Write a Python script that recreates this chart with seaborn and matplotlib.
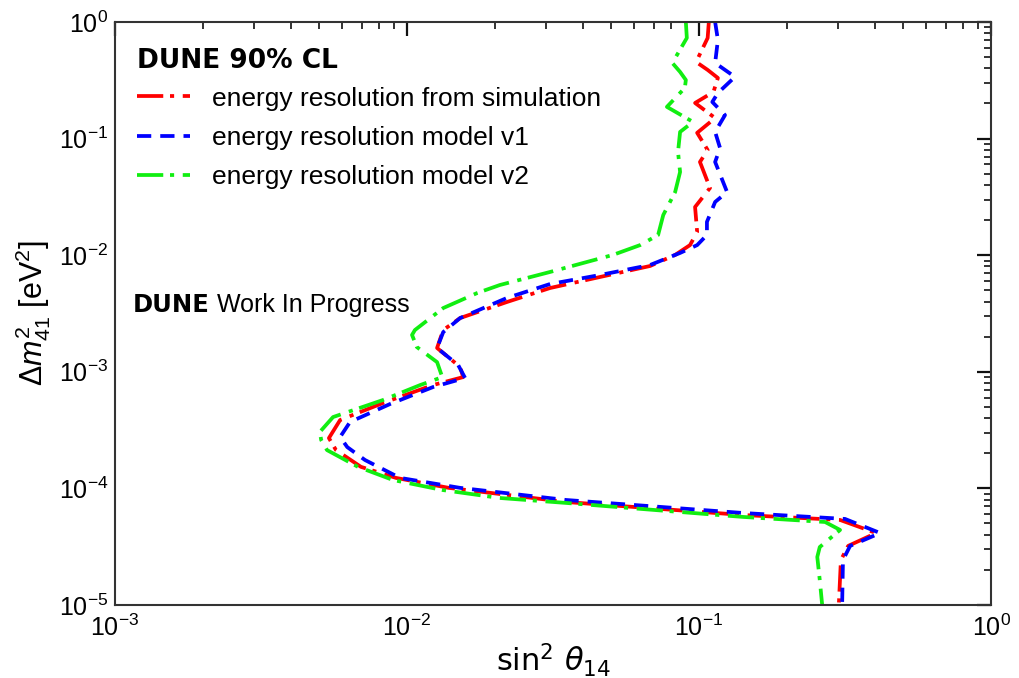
import numpy as np
import pandas as pd
import matplotlib
matplotlib.use("Agg")
import matplotlib.pyplot as plt
import seaborn as sns
from matplotlib.ticker import LogLocator, NullFormatter

# 90% CL exclusion contours: (sin^2 theta_14, Delta m^2_41 [eV^2]) traced from top to bottom
sim_sin2 = [0.108, 0.107, 0.0977, 0.107, 0.116, 0.112, 0.0969, 0.1135, 0.0985, 0.107,
            0.1007, 0.109, 0.0969, 0.0985, 0.0931, 0.0828, 0.068, 0.0458, 0.0309, 0.0220,
            0.0152, 0.0133, 0.01267, 0.0152, 0.01556, 0.01228, 0.00828, 0.0059, 0.0054, 0.00571,
            0.00695, 0.00916, 0.0139, 0.0351, 0.1416, 0.304, 0.404, 0.324, 0.306, 0.301]
sim_dm2 = [1.0, 0.729, 0.454, 0.388, 0.331, 0.251, 0.202, 0.150, 0.112, 0.0798,
           0.063, 0.0377, 0.0259, 0.0158, 0.0122, 0.01005, 0.00808, 0.0065, 0.00523, 0.00397,
           0.00289, 0.00228, 0.0016, 0.0011, 0.0009, 0.00077, 0.00054, 0.000386, 0.00027, 0.000213,
           0.000153, 0.000123, 0.000101, 7.64e-5, 5.91e-5, 5.36e-5, 4.14e-5, 3.21e-5, 2.43e-5, 1e-5]

v1_sin2 = [0.1135, 0.116, 0.1135, 0.1327, 0.116, 0.111, 0.1227, 0.1135, 0.118, 0.1135,
           0.1247, 0.1135, 0.1064, 0.1064, 0.0985, 0.0861, 0.068, 0.0458, 0.0309, 0.0220,
           0.0152, 0.0133, 0.01267, 0.01497, 0.0158, 0.01228, 0.00876, 0.00638, 0.0059, 0.00624,
           0.00718, 0.00946, 0.0152, 0.0351, 0.1416, 0.316, 0.417, 0.329, 0.311, 0.309]
v1_dm2 = [1.0, 0.701, 0.445, 0.338, 0.246, 0.206, 0.159, 0.114, 0.083, 0.063,
          0.0348, 0.0286, 0.0193, 0.0149, 0.0122, 0.01045, 0.00824, 0.00676, 0.00566, 0.0043,
          0.00289, 0.00219, 0.0016, 0.00114, 0.000885, 0.00074, 0.00053, 0.000371, 0.000276, 0.000226,
          0.000175, 0.000123, 0.000101, 7.95e-5, 6.15e-5, 5.47e-5, 4.14e-5, 3.21e-5, 2.43e-5, 1e-5]

v2_sin2 = [0.0901, 0.0908, 0.081, 0.0861, 0.0901, 0.0894, 0.0776, 0.0953, 0.0861, 0.0847,
           0.0861, 0.0828, 0.0754, 0.0724, 0.0628, 0.0507, 0.0309, 0.0208, 0.0174, 0.0133,
           0.01064, 0.0104, 0.0108, 0.01267, 0.0132, 0.0111, 0.00828, 0.00558, 0.00503, 0.00508,
           0.00532, 0.00679, 0.00895, 0.0132, 0.0207, 0.0351, 0.0702, 0.1416, 0.270, 0.304,
           0.259, 0.254, 0.259, 0.264]
v2_dm2 = [1.0, 0.729, 0.445, 0.373, 0.318, 0.272, 0.187, 0.139, 0.114, 0.0767,
          0.0517, 0.0348, 0.0221, 0.0149, 0.0122, 0.01005, 0.00718, 0.00555, 0.00474, 0.00352,
          0.00228, 0.00207, 0.00163, 0.00121, 0.0009, 0.00077, 0.000573, 0.000409, 0.000305, 0.00026,
          0.000213, 0.000153, 0.000118, 9.69e-5, 8.28e-5, 7.5e-5, 6.53e-5, 5.69e-5, 5.15e-5, 4.40e-5,
          3.14e-5, 2.58e-5, 1.64e-5, 1e-5]

labels = ["energy resolution from simulation",
          "energy resolution model v1",
          "energy resolution model v2"]
colors = ["#ff0000", "#0000ff", "#11ee11"]
dash_patterns = [(7.0, 1.8, 1.1, 2.3), (3.8, 2.4), (7.0, 1.8, 1.1, 2.3)]

frames = []
for lab, xs, ys in zip(labels, [sim_sin2, v1_sin2, v2_sin2], [sim_dm2, v1_dm2, v2_dm2]):
    frames.append(pd.DataFrame({"sin2": xs, "dm2": ys, "model": lab}))
df = pd.concat(frames, ignore_index=True)

sns.set_theme(style="white")
plt.rcParams["font.family"] = ["Liberation Sans", "DejaVu Sans"]
plt.rcParams["text.color"] = "black"
plt.rcParams["axes.labelcolor"] = "black"
plt.rcParams["mathtext.fontset"] = "custom"
plt.rcParams["mathtext.rm"] = "Liberation Sans"
plt.rcParams["mathtext.it"] = "Liberation Sans:italic"
plt.rcParams["mathtext.bf"] = "Liberation Sans:bold"

fig = plt.figure(figsize=(10.19, 6.78), dpi=100)
ax = fig.add_axes([0.1129, 0.1077, 0.8597, 0.8599])
ax.set_xscale("log")
ax.set_yscale("log")

sns.lineplot(data=df, x="sin2", y="dm2", hue="model", style="model",
             hue_order=labels, style_order=labels,
             palette=dict(zip(labels, colors)),
             dashes=dict(zip(labels, dash_patterns)),
             sort=False, estimator=None, linewidth=2.7, legend=False, ax=ax)

ax.set_xlim(1e-3, 1)
ax.set_ylim(1e-5, 1)

for spine in ax.spines.values():
    spine.set_color("#333333")
    spine.set_linewidth(1.5)

for axis in (ax.xaxis, ax.yaxis):
    axis.set_major_locator(LogLocator(base=10, numticks=12))
    axis.set_minor_locator(LogLocator(base=10, subs=np.arange(2, 10), numticks=12))
    axis.set_minor_formatter(NullFormatter())
ax.tick_params(which="both", direction="in", top=True, right=True, colors="#111111",
               labelcolor="black", labelsize=18)
ax.tick_params(which="major", length=10, width=1.6)
ax.tick_params(which="minor", length=5, width=1.2)
ax.tick_params(axis="x", which="major", pad=7)
ax.tick_params(axis="y", which="major", pad=5)

ax.set_xlabel(r"$\sin^2\,\theta_{14}$", fontsize=22, family="DejaVu Sans",
              math_fontfamily="dejavusans", labelpad=0)
ax.set_ylabel(r"$\Delta m^2_{41}$ [eV$^2$]", fontsize=22, labelpad=4)

handles = ax.get_lines()[:3]
leg = ax.legend(handles, labels, title="DUNE 90% CL", loc="upper left",
                bbox_to_anchor=(0.025, 0.955), frameon=False, borderaxespad=0,
                borderpad=0, handlelength=2.0, handletextpad=0.85, labelspacing=0.57,
                prop={"family": "Liberation Sans", "size": 19},
                title_fontproperties={"family": "DejaVu Sans", "weight": "bold", "size": 19},
                alignment="left")
leg._legend_box.sep = 9

ax.text(0.0205, 0.5026, "DUNE", transform=ax.transAxes, fontsize=17.5,
        family="DejaVu Sans", weight="bold", va="baseline", ha="left", color="black")
ax.text(0.1164, 0.5026, "Work In Progress", transform=ax.transAxes, fontsize=18,
        family="Liberation Sans", va="baseline", ha="left", color="black")

fig.savefig("out.png", dpi=100)
